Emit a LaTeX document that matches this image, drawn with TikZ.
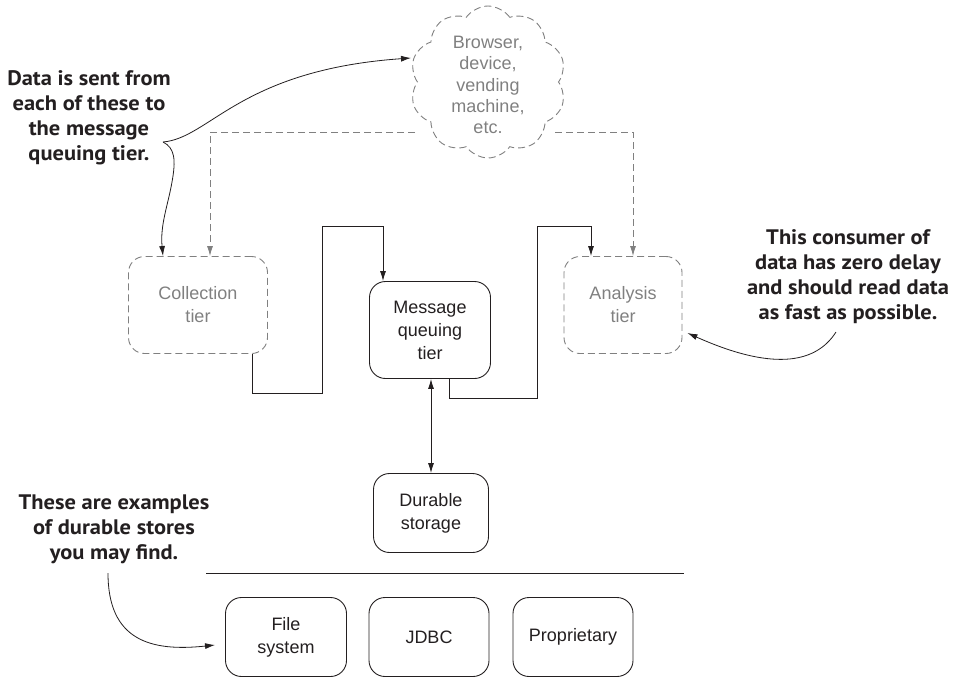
\documentclass[tikz,border=0pt]{standalone}
\usepackage{fontspec}
\setmainfont{Liberation Sans}
\newfontfamily\annfont[FakeStretch=1.07]{PT Sans}
\usetikzlibrary{shapes.symbols,arrows.meta}
\definecolor{ink}{HTML}{231F20}
\definecolor{dimgray}{HTML}{808080}
\begin{document}
\begin{tikzpicture}[x=1pt,y=-1pt,
  every node/.style={text=ink},
  box/.style={draw=ink, line width=0.9pt, rounded corners=16pt, align=center,
    font=\fontsize{18}{23}\selectfont, inner sep=0pt},
  gbox/.style={box, draw=dimgray, text=dimgray, dash pattern=on 7pt off 4pt},
  conn/.style={draw=ink, line width=0.9pt, -{Latex[length=10pt,width=6pt]}},
  gconn/.style={draw=dimgray, line width=0.9pt, dash pattern=on 7pt off 4pt,
    -{Latex[length=10pt,width=6pt]}},
  ann/.style={align=center, font=\annfont\bfseries\fontsize{21}{25}\selectfont},
  annline/.style={draw=ink, line width=0.8pt, -{Latex[length=10pt,width=6pt]}}
]
\useasboundingbox (0,0) rectangle (956,678);

% cloud
\node[cloud, draw=dimgray, dash pattern=on 7pt off 4pt, line width=0.9pt,
  cloud puffs=10, cloud puff arc=110, minimum width=156pt, minimum height=152pt,
  inner sep=0pt] (cloud) at (488,82) {};
\node[align=center, text=dimgray, font=\fontsize{18}{21.3}\selectfont] (cloudtxt) at (488,85)
  {Browser,\\device,\\vending\\machine,\\etc.};

% tiers
\node[gbox, minimum width=139pt, minimum height=97pt] (coll) at (198,305) {Collection\\tier};
\node[box, minimum width=121pt, minimum height=97pt] (mq) at (430,330) {Message\\queuing\\tier};
\node[gbox, minimum width=118pt, minimum height=97pt] (ana) at (623,305) {Analysis\\tier};
\node[box, minimum width=115pt, minimum height=79pt] (dur) at (431,513) {Durable\\storage};

% stores
\node[box, minimum width=121pt, minimum height=79pt] (fs) at (286,637) {File\\system};
\node[box, minimum width=120pt, minimum height=79pt] (jdbc) at (429,637) {JDBC};
\node[box, minimum width=120pt, minimum height=79pt] (prop) at (573,637) {Proprietary};

% separator
\coordinate (sepL) at (206,573);
\coordinate (sepR) at (684,573);
\draw[ink, line width=0.9pt] (sepL) -- (sepR);

% connectors
\draw[conn] ([xshift=54pt]coll.south) |- (322,393) |- (383,226) -- ([xshift=-47pt]mq.north);
\draw[conn] ([xshift=19pt]mq.south) |- (537,398) |- (591,226) -- ([xshift=-32pt]ana.north);
\draw[draw=ink, line width=0.9pt, {Latex[length=10pt,width=6pt]}-{Latex[length=10pt,width=6pt]}]
  ([xshift=1pt]mq.south) -- (dur.north);

\draw[gconn] ([shift={(-73pt,-50pt)}]cloud.center) -| ([xshift=12pt]coll.north);
\draw[gconn] ([shift={(67pt,-50pt)}]cloud.center) -| ([xshift=10pt]ana.north);

% annotations
\node[ann] (a1) at (89,118) {Data is sent from\\each of these to\\the message\\queuing tier.};
\node[ann] (a2) at (848,277) {This consumer of\\data has zero delay\\and should read data\\as fast as possible.};
\node[ann] (a3) at (114,529) {These are examples\\of durable stores\\you may find.};

\coordinate (cusp) at (163,142);
\draw[annline] (cusp) .. controls (210,138) and (240,70) .. ([xshift=-77pt,yshift=24pt]cloud.center);
\draw[annline] (cusp) .. controls (175,148) and (176,160) .. (172,182)
  .. controls (168,205) and (160,225) .. ([xshift=-35pt]coll.north);
\coordinate (a2start) at (836,332);
\draw[annline] (a2start) .. controls (815,365) and (770,370) .. ([xshift=5pt,yshift=-28pt]ana.east);
\coordinate (a3start) at (108,573);
\draw[annline] (a3start) .. controls (108,640) and (150,652) .. ([xshift=-10pt,yshift=-8pt]fs.west);
\end{tikzpicture}
\end{document}
